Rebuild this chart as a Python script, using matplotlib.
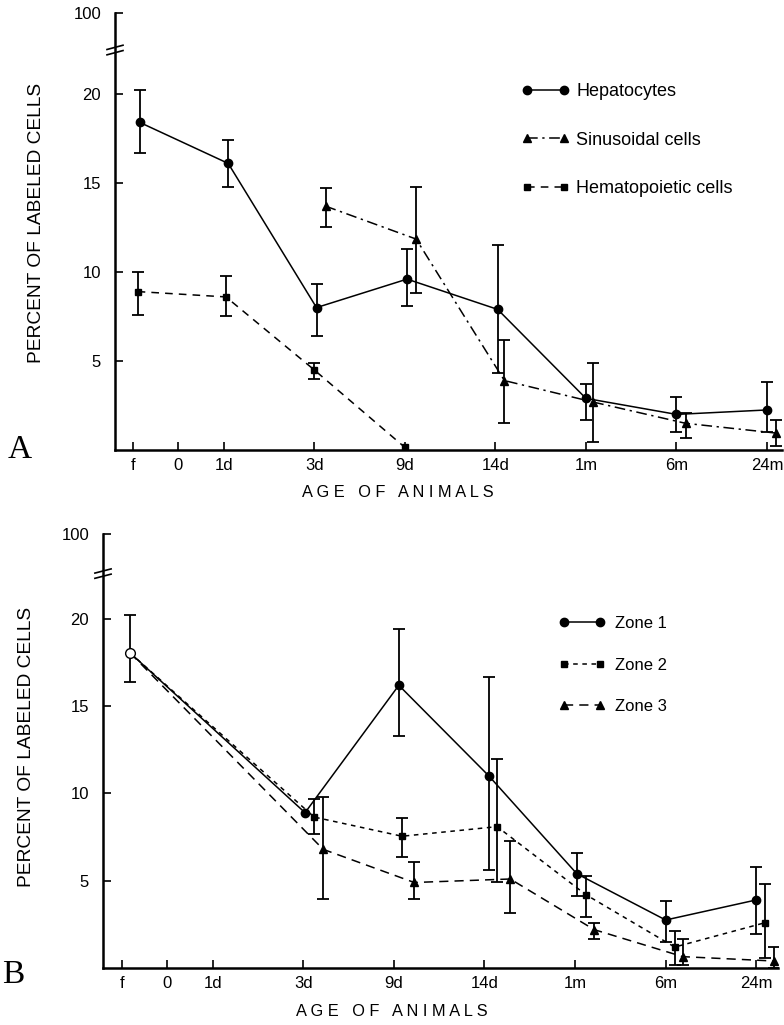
import numpy as np
import matplotlib
matplotlib.use("Agg")
import matplotlib.pyplot as plt

plt.rcParams['font.family'] = ['Liberation Sans', 'DejaVu Sans']

# ---------------- data ----------------
tick_pos = [0, 1, 2, 4, 6, 8, 10, 12, 14]
tick_labels = ['f', '0', '1d', '3d', '9d', '14d', '1m', '6m', '24m']
ytick_vals = [5, 10, 15, 20]
ytick_labels = ['5', '10', '15', '20']

# Panel A
hep_x = [0.15, 2.1, 4.05, 6.05, 8.05, 10.0, 12.0, 14.0]
hep_y = [18.4, 16.1, 8.0, 9.6, 7.9, 2.9, 2.0, 2.25]
hep_hi = [20.2, 17.4, 9.3, 11.3, 11.5, 3.7, 3.0, 3.8]
hep_lo = [16.7, 14.8, 6.4, 8.1, 4.3, 1.7, 1.0, 1.0]

sin_x = [4.25, 6.25, 8.2, 10.15, 12.2, 14.2]
sin_y = [13.7, 11.85, 3.9, 2.7, 1.5, 0.95]
sin_hi = [14.7, 14.8, 6.2, 4.9, 2.1, 1.7]
sin_lo = [12.5, 8.8, 1.5, 0.45, 0.7, 0.2]

hem_x = [0.1, 2.05, 4.0, 6.0]
hem_y = [8.9, 8.6, 4.5, 0.15]
hem_hi = [10.0, 9.8, 4.9, np.nan]
hem_lo = [7.6, 7.5, 4.0, np.nan]

# Panel B (first point: common fetal value, open circle)
start_x = [0.18]
start_y = [18.05]
start_hi = [20.2]
start_lo = [16.4]

z1_x = [0.18, 4.04, 6.11, 8.1, 10.04, 12.0, 14.0]
z1_y = [18.05, 8.9, 16.2, 11.0, 5.4, 2.75, 3.9]
z1_hi = [np.nan, np.nan, 19.4, 16.7, 6.6, 3.85, 5.8]
z1_lo = [np.nan, np.nan, 13.3, 5.6, 4.1, 1.5, 1.95]

z2_x = [0.18, 4.24, 6.18, 8.28, 10.24, 12.2, 14.2]
z2_y = [18.05, 8.65, 7.55, 8.1, 4.2, 1.2, 2.6]
z2_hi = [np.nan, 9.7, 8.6, 12.0, 5.3, 2.1, 4.8]
z2_lo = [np.nan, 7.7, 6.35, 4.9, 2.9, 0.2, 0.6]

z3_x = [0.18, 4.44, 6.45, 8.57, 10.42, 12.38, 14.39]
z3_y = [18.05, 6.8, 4.9, 5.1, 2.2, 0.65, 0.4]
z3_hi = [np.nan, 9.8, 6.1, 7.3, 2.6, 1.65, 1.2]
z3_lo = [np.nan, 3.95, 3.95, 3.15, 1.65, 0.2, 0.0]

# ---------------- drawing ----------------
fig = plt.figure(figsize=(7.84, 10.25), dpi=100)

def err(y, lo, hi):
    y = np.asarray(y, float); lo = np.asarray(lo, float); hi = np.asarray(hi, float)
    return np.vstack([y - lo, hi - y])

def setup(ax, top_pos, brk, xl, ylc, xlc):
    ax.set_xlim(*xl)
    ax.set_ylim(0, top_pos)
    for s in ['top', 'right']:
        ax.spines[s].set_visible(False)
    ax.spines['left'].set_linewidth(1.8)
    ax.spines['bottom'].set_linewidth(1.8)
    ax.set_xticks(tick_pos)
    ax.set_xticklabels(tick_labels, fontsize=12)
    ax.set_yticks(ytick_vals + [top_pos])
    ax.set_yticklabels(ytick_labels + ['100'], fontsize=12)
    ax.tick_params(direction='in', length=6, width=1.2, pad=6)
    ax.tick_params(axis='y', pad=10)
    # axis break marks
    for dy in (-0.15, 0.15):
        ax.plot([-0.012, 0.012], [brk + dy - 0.12, brk + dy + 0.12],
                transform=ax.get_yaxis_transform(), color='black', lw=1.2,
                clip_on=False)
    ax.set_ylabel('PERCENT OF LABELED CELLS', fontsize=13.8, va='center', ha='center')
    ax.yaxis.set_label_coords(*ylc)
    ax.set_xlabel('A G E   O F   A N I M A L S', fontsize=11.8, va='center', ha='center')
    ax.xaxis.set_label_coords(*xlc)

ekw = dict(capsize=4, elinewidth=1.3, capthick=1.3, ecolor='black')

# Panel A
axA = fig.add_axes([115/784, 1 - 450/1025, 667/784, 437/1025])
setup(axA, 24.55, 22.47, (-0.4, 14.33), (-0.117, 0.52), (0.424, -0.098))
axA.errorbar(hep_x, hep_y, yerr=err(hep_y, hep_lo, hep_hi), color='black', lw=1.1,
             marker='o', ms=6, ls='-', label='Hepatocytes', **ekw)
axA.errorbar(sin_x, sin_y, yerr=err(sin_y, sin_lo, sin_hi), color='black', lw=1.1,
             marker='^', ms=6, ls=(0, (7, 3, 1.5, 3)), label='Sinusoidal cells', **ekw)
axA.errorbar(hem_x, hem_y, yerr=err(hem_y, hem_lo, hem_hi), color='black', lw=1.1,
             marker='s', ms=5, ls=(0, (5, 4)), label='Hematopoietic cells', **ekw)
h, l = axA.get_legend_handles_labels()
axA.legend([x[0] for x in h], l, loc='center left', bbox_to_anchor=(0.61, 0.709),
           frameon=False, numpoints=2, handlelength=2.65, handletextpad=0.35,
           labelspacing=1.75, fontsize=13, borderpad=0, borderaxespad=0)
fig.text(20/784, 1 - 450/1025, 'A', fontsize=24, family='Liberation Serif',
         ha='center', va='center')

# Panel B
axB = fig.add_axes([103/784, 1 - 968/1025, 675/784, 434/1025])
setup(axB, 24.87, 22.6, (-0.42, 14.48), (-0.113, 0.51), (0.428, -0.101))
axB.errorbar(z1_x, z1_y, yerr=err(z1_y, z1_lo, z1_hi), color='black', lw=1.1,
             marker='o', ms=6, ls='-', label='Zone 1', markevery=list(range(1, 7)), **ekw)
axB.errorbar(z2_x, z2_y, yerr=err(z2_y, z2_lo, z2_hi), color='black', lw=1.1,
             marker='s', ms=5, ls=(0, (3, 3)), label='Zone 2', markevery=list(range(1, 7)), **ekw)
axB.errorbar(z3_x, z3_y, yerr=err(z3_y, z3_lo, z3_hi), color='black', lw=1.1,
             marker='^', ms=6, ls=(0, (6, 4)), label='Zone 3', markevery=list(range(1, 7)), **ekw)
axB.errorbar(start_x, start_y, yerr=err(start_y, start_lo, start_hi), color='black',
             marker='o', ms=7, mfc='white', ls='none', **ekw)
h, l = axB.get_legend_handles_labels()
axB.legend([x[0] for x in h[:3]], l[:3], loc='center left', bbox_to_anchor=(0.676, 0.698),
           frameon=False, numpoints=2, handlelength=2.75, handletextpad=0.6,
           labelspacing=1.6, fontsize=12, borderpad=0, borderaxespad=0)
fig.text(13/784, 1 - 975/1025, 'B', fontsize=24, family='Liberation Serif',
         ha='center', va='center')

fig.savefig('out.png', dpi=100)
